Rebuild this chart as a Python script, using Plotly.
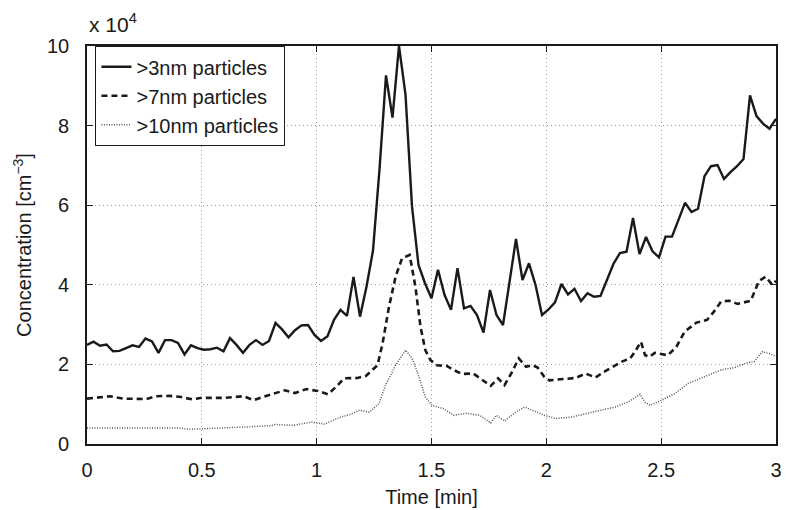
import plotly.graph_objects as go

# ---- data (concentration in units of 10^4 cm^-3) ----
n_samples = 107
t_max = 3.0
time_3nm = [round(i * t_max / (n_samples - 1), 4) for i in range(n_samples)]
conc_3nm = [
    2.49, 2.57, 2.47, 2.50, 2.33, 2.34, 2.41, 2.48, 2.44, 2.65, 2.58, 2.29, 2.61, 2.61, 2.54, 2.25,
    2.48, 2.41, 2.37, 2.38, 2.42, 2.33, 2.66, 2.49, 2.29, 2.49, 2.61, 2.49, 2.59, 3.04, 2.88, 2.68,
    2.86, 2.98, 2.99, 2.74, 2.59,
    2.71, 3.12, 3.37, 3.22, 4.20, 3.20, 3.95, 4.86, 6.90, 9.26, 8.20, 10.0, 8.78, 5.97, 4.50, 4.04,
    3.66, 4.38, 3.75, 3.37, 4.42, 3.41, 3.47, 3.24, 2.80, 3.87, 3.24, 2.99, 4.10, 5.15, 4.12, 4.54,
    4.00, 3.24, 3.38, 3.56,
    4.02, 3.76, 3.90, 3.59, 3.79, 3.70, 3.72, 4.12, 4.53, 4.80, 4.83, 5.68, 4.77, 5.20, 4.84, 4.69,
    5.21, 5.21, 5.62, 6.06, 5.83, 5.91, 6.73, 6.98, 7.01, 6.66, 6.83, 6.98, 7.16, 8.76, 8.24, 8.05,
    7.92, 8.17,
]

time_7nm = [
    0.0, 0.1, 0.157, 0.258, 0.3, 0.358, 0.409, 0.459, 0.5, 0.6, 0.682, 0.725, 0.776, 0.819, 0.862,
    0.905, 0.955, 1.006, 1.049, 1.085, 1.12, 1.178, 1.214, 1.265, 1.287, 1.315, 1.344, 1.372, 1.405,
    1.43, 1.452, 1.473, 1.495, 1.524, 1.567, 1.596, 1.632, 1.682, 1.725, 1.758, 1.79, 1.818, 1.847,
    1.88, 1.912, 1.941, 1.962, 1.991, 2.013, 2.07, 2.128, 2.171, 2.214, 2.25, 2.293, 2.329, 2.365,
    2.386, 2.412, 2.43, 2.45, 2.472, 2.5, 2.529, 2.566, 2.602, 2.653, 2.7, 2.729, 2.761, 2.797,
    2.833, 2.89, 2.926, 2.955, 2.984, 3.0,
]
conc_7nm = [
    1.14, 1.20, 1.14, 1.13, 1.20, 1.21, 1.18, 1.12, 1.16, 1.16, 1.20, 1.10, 1.20, 1.27, 1.35,
    1.28, 1.38, 1.33, 1.25, 1.44, 1.65, 1.66, 1.71, 1.98, 2.53, 3.45, 4.21, 4.67, 4.75,
    3.95, 2.95, 2.36, 2.11, 1.98, 1.96, 1.86, 1.76, 1.77, 1.60, 1.46, 1.65, 1.48, 1.77,
    2.15, 1.94, 1.98, 1.92, 1.69, 1.60, 1.63, 1.66, 1.77, 1.67, 1.81, 1.96, 2.07, 2.15,
    2.32, 2.57, 2.23, 2.19, 2.29, 2.26, 2.23, 2.44, 2.82, 3.05, 3.12, 3.32, 3.58, 3.60,
    3.52, 3.60, 4.10, 4.20, 4.00, 4.10,
]

time_10nm = [
    0.0, 0.1, 0.2, 0.3, 0.4, 0.45, 0.5, 0.6, 0.7, 0.8, 0.82, 0.9, 0.955, 0.977, 1.034, 1.106,
    1.15, 1.186, 1.229, 1.272, 1.3, 1.344, 1.387, 1.416, 1.445, 1.473, 1.502, 1.552, 1.596, 1.653,
    1.71, 1.758, 1.782, 1.818, 1.869, 1.905, 1.955, 1.991, 2.041, 2.113, 2.178, 2.243, 2.3, 2.358,
    2.408, 2.43, 2.451, 2.502, 2.56, 2.617, 2.689, 2.761, 2.818, 2.876, 2.905, 2.941, 2.977, 3.0,
]
conc_10nm = [
    0.40, 0.40, 0.41, 0.41, 0.40, 0.37, 0.38, 0.40, 0.43, 0.46, 0.49, 0.47, 0.52, 0.55, 0.50, 0.68,
    0.75, 0.85, 0.80, 1.02, 1.48, 1.98, 2.36, 2.15, 1.69, 1.18, 0.97, 0.89, 0.72, 0.77,
    0.72, 0.53, 0.72, 0.58, 0.81, 0.93, 0.81, 0.72, 0.64, 0.68, 0.77, 0.85, 0.93, 1.06,
    1.25, 1.05, 0.97, 1.10, 1.27, 1.52, 1.69, 1.86, 1.92, 2.04, 2.07, 2.32, 2.26, 2.20,
]

x_ticks = [0, 0.5, 1, 1.5, 2, 2.5, 3]
x_tick_labels = ["0", "0.5", "1", "1.5", "2", "2.5", "3"]
y_ticks = [0, 2, 4, 6, 8, 10]
y_tick_labels = ["0", "2", "4", "6", "8", "10"]

FONT = "Liberation Sans, Arial, Helvetica, sans-serif"

fig = go.Figure()
fig.add_trace(go.Scatter(x=time_3nm, y=conc_3nm, mode="lines", name=">3nm particles",
                         line=dict(color="#1a1a1a", width=2.4)))
fig.add_trace(go.Scatter(x=time_7nm, y=conc_7nm, mode="lines", name=">7nm particles",
                         line=dict(color="#1a1a1a", width=2.6, dash="6px,4px")))
fig.add_trace(go.Scatter(x=time_10nm, y=conc_10nm, mode="lines", name=">10nm particles",
                         line=dict(color="#555555", width=1.5, dash="1px,1.5px")))

axis_common = dict(
    showline=True, linecolor="#1a1a1a", linewidth=1.6, mirror="ticks",
    ticks="inside", ticklen=6, tickwidth=1.4, tickcolor="#1a1a1a",
    showgrid=True, gridcolor="#9a9a9a", gridwidth=1, griddash="1px,3px",
    zeroline=False, tickfont=dict(family=FONT, size=20, color="#1a1a1a"),
)

fig.update_layout(
    width=786, height=510,
    margin=dict(l=87, r=4, t=46, b=66),
    paper_bgcolor="white", plot_bgcolor="white",
    font=dict(family=FONT, size=20, color="#1a1a1a"),
    xaxis=dict(range=[0, 3], tickvals=x_ticks, ticktext=x_tick_labels,
               title=dict(text="Time [min]", font=dict(family=FONT, size=20), standoff=10),
               ticklabelstandoff=7, **axis_common),
    yaxis=dict(range=[0, 10], tickvals=y_ticks, ticktext=y_tick_labels,
               title=dict(text="Concentration [cm<sup>\u22123</sup>]", font=dict(family=FONT, size=20), standoff=10),
               ticklabelstandoff=12, **axis_common),
    legend=dict(x=0.012, y=1.0, xanchor="left", yanchor="top",
                bgcolor="white", bordercolor="#1a1a1a", borderwidth=1.2,
                font=dict(family=FONT, size=20, color="#1a1a1a"),
                itemwidth=30, tracegroupgap=0),
    showlegend=True,
)
fig.add_annotation(text="x 10<sup>4</sup>", xref="paper", yref="paper", x=0, y=1,
                   xanchor="left", yanchor="bottom", yshift=8, showarrow=False,
                   font=dict(family=FONT, size=21, color="#1a1a1a"))

fig.write_html("out.html")
